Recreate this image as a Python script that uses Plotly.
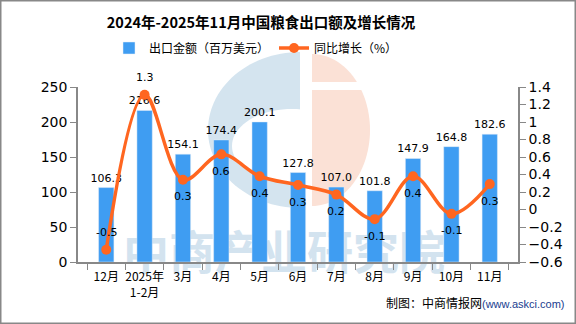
import math
import plotly.graph_objects as go

categories = ["12月", "2025年<br>1-2月", "3月", "4月", "5月", "6月", "7月", "8月", "9月", "10月", "11月"]
export_value = [106.3, 216.6, 154.1, 174.4, 200.1, 127.8, 107.0, 101.8, 147.9, 164.8, 182.6]
growth_actual = [-0.46, 1.31, 0.34, 0.63, 0.38, 0.28, 0.17, -0.11, 0.38, -0.05, 0.29]
growth_labels = ["-0.5", "1.3", "0.3", "0.6", "0.4", "0.3", "0.2", "-0.1", "0.4", "-0.1", "0.3"]
growth_label_side = [1, 1, -1, -1, -1, -1, -1, -1, -1, -1, -1]  # 1 = above point, -1 = below
bar_labels = [f"{v:.1f}" for v in export_value]

FONT = "Noto Sans CJK SC"
NUMFONT = "DejaVu Sans"
BLUE = "#3f9df2"
ORANGE = "#ff6620"

W, H = 576, 324
ML, MR, MT, MB = 78, 58, 87, 28          # layout margins (paper area extends below the axis)
AXIS_Y = 262                              # pixel row of the x axis
PW, PH = W - ML - MR, H - MT - MB
PAPER_BOTTOM = H - MB


def paper(xp, yp):
    return (xp - ML) / PW, (PAPER_BOTTOM - yp) / PH


def poly_path(points):
    pts = [paper(x, y) for x, y in points]
    return "M " + " L ".join(f"{a:.5f},{b:.5f}" for a, b in pts) + " Z"


def ellipse_pts(cx, cy, rx, ry, a0, a1, n=60):
    return [(cx + rx * math.cos(math.radians(a0 + (a1 - a0) * i / n)),
             cy + ry * math.sin(math.radians(a0 + (a1 - a0) * i / n))) for i in range(n + 1)]


chart_dom_bottom = paper(0, AXIS_Y)[1]
wm_dom = [0, paper(0, 225)[1]]

fig = go.Figure()
# watermark on its own hidden subplot (drawn first, beneath the chart)
wx = paper(284, 0)[0]
wy = (PAPER_BOTTOM - 257) / (PAPER_BOTTOM - 225)
fig.add_trace(go.Scatter(
    x=[wx], y=[wy], xaxis="x", yaxis="y", mode="text", text=["<b>中商产业研究院</b>"],
    textposition="middle center", cliponaxis=False, showlegend=False, hoverinfo="skip",
    textfont=dict(family=FONT, size=46, color="#d3e3ef"),
))
fig.add_trace(go.Bar(
    x=categories, y=export_value, name="出口金额（百万美元）", xaxis="x2", yaxis="y2",
    marker_color=BLUE, width=0.4,
    text=bar_labels, textposition="outside", cliponaxis=False, constraintext="none",
    textfont=dict(family=NUMFONT, size=11, color="#000"),
))
fig.add_trace(go.Scatter(
    x=categories, y=growth_actual, name="同比增长（%）", xaxis="x2", yaxis="y3",
    mode="lines+markers", line=dict(color=ORANGE, width=3.5, shape="spline", smoothing=1),
    marker=dict(color=ORANGE, size=10), cliponaxis=False,
))

annotations = []
for c, v, lab, side in zip(categories, growth_actual, growth_labels, growth_label_side):
    annotations.append(dict(x=c, y=v, xref="x2", yref="y3", text=lab, showarrow=False,
                            yshift=17 * side, font=dict(family=NUMFONT, size=11, color="#000")))

sx, sy = paper(567, 302)
annotations.append(dict(text="制图：中商情报网<span style='color:#1a3d8f;font-family:Liberation Sans;font-size:11px'>(www.askci.com)</span>",
                        x=sx, y=sy, xref="paper", yref="paper", showarrow=False,
                        xanchor="right", yanchor="middle", font=dict(family=FONT, size=12, color="#000")))

# background logo (decoration)
shapes = []
blue_half = ellipse_pts(300, 130, 92, 78, 90, 270, 60)
shapes.append(dict(type="path", xref="paper", yref="paper", layer="below",
                   path=poly_path(blue_half + [(300, 52)]), fillcolor="#d4e4ef", line=dict(width=0)))
shapes.append(dict(type="path", xref="paper", yref="paper", layer="below",
                   path=poly_path(ellipse_pts(292, 146, 60, 37, 0, 360, 80)), fillcolor="white",
                   line=dict(width=0)))
peach = ellipse_pts(312, 130, 58, 76, -90, 90, 60)
shapes.append(dict(type="path", xref="paper", yref="paper", layer="below",
                   path=poly_path(peach + [(312, 54)]), fillcolor="#fbe1d6", line=dict(width=0)))
x0, y0 = paper(310, 90)
x1, y1 = paper(375, 82)
shapes.append(dict(type="rect", xref="paper", yref="paper", layer="below",
                   x0=x0, x1=x1, y0=y0, y1=y1, fillcolor="white", line=dict(width=0)))
bx0, by0 = paper(0.75, H - 0.75)
bx1, by1 = paper(W - 0.75, 0.75)
shapes.append(dict(type="rect", xref="paper", yref="paper", x0=bx0, x1=bx1, y0=by0, y1=by1,
                   line=dict(color="#888", width=1.5)))

axis_common = dict(showline=True, linecolor="#888", linewidth=1.5, ticks="outside", ticklen=6,
                   tickcolor="#888", showgrid=False, zeroline=False)

fig.update_layout(
    width=W, height=H,
    margin=dict(l=ML, r=MR, t=MT, b=MB),
    paper_bgcolor="white", plot_bgcolor="rgba(0,0,0,0)",
    font=dict(family=FONT, size=13, color="#000"),
    title=dict(text="<b>2024年-2025年11月中国粮食出口额及增长情况</b>", xref="container",
               x=261 / W, xanchor="center",
               yref="container", y=1 - 23 / H, yanchor="middle",
               font=dict(family=FONT, size=14.5, color="#000")),
    legend=dict(orientation="h", x=paper(256, 0)[0], xanchor="center", y=paper(0, 48)[1], yanchor="middle",
                font=dict(family=FONT, size=12), bgcolor="rgba(0,0,0,0)"),
    showlegend=True,
    xaxis=dict(range=[0, 1], domain=[0, 1], anchor="y", visible=False, showgrid=False, zeroline=False),
    yaxis=dict(range=[0, 1], domain=wm_dom, anchor="x", visible=False, showgrid=False, zeroline=False),
    xaxis2=dict(type="category", domain=[0, 1], anchor="y2", side="bottom", tickson="boundaries",
                tickangle=0, ticklabelstandoff=3, tickfont=dict(family=FONT, size=12), **axis_common),
    yaxis2=dict(range=[0, 250], dtick=50, domain=[chart_dom_bottom, 1], anchor="x2", side="left",
                tickfont=dict(family=NUMFONT, size=14), **axis_common),
    yaxis3=dict(range=[-0.6, 1.4], dtick=0.2, overlaying="y2", anchor="x2", side="right",
                tickfont=dict(family=NUMFONT, size=14), **axis_common),
    annotations=annotations,
    shapes=shapes,
)
fig.write_html("out.html")
